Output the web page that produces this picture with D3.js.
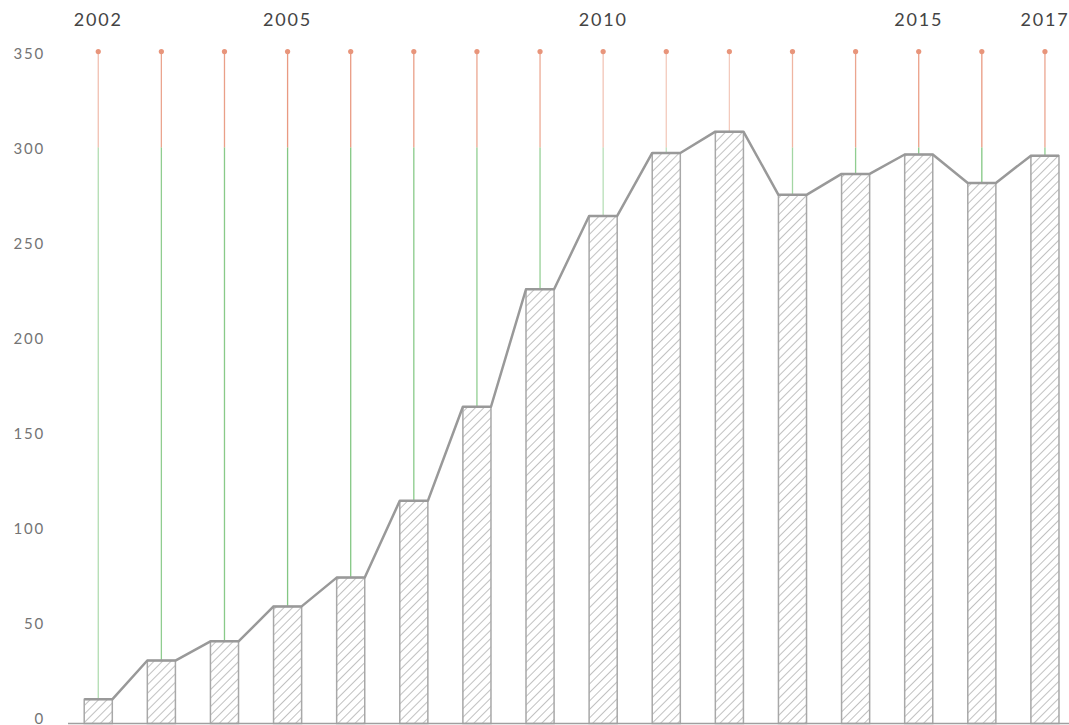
<!DOCTYPE html>
<html>
<head>
<meta charset="utf-8">
<script src="https://cdn.jsdelivr.net/npm/d3@7"></script>
<style>
  html, body { margin: 0; padding: 0; background: #fff; }
  svg { display: block; }
  text { font-family: Lato, "Noto Sans", sans-serif; }
</style>
</head>
<body>
<svg id="chart" width="1069" height="725"></svg>
<script>
// Yearly values
const years = [2002, 2003, 2004, 2005, 2006, 2007, 2008, 2009,
               2010, 2011, 2012, 2013, 2014, 2015, 2016, 2017];
const values = [12.6, 32.8, 42.8, 61, 76, 116, 165, 226.2,
                264.4, 297.2, 308.3, 275.4, 286.3, 296.4, 281.6, 295.8];
// Reference levels for the stems
const ceiling = 350;
const threshold = 300;
// Stem opacities per year (upper salmon part / lower green part)
const upperOpacity = [0.6, 0.85, 0.9, 0.95, 0.95, 0.9, 0.85, 0.8,
                      0.55, 0.5, 0.5, 0.7, 0.85, 0.9, 0.95, 0.85];
const lowerOpacity = [0.6, 0.85, 0.9, 0.95, 0.95, 0.9, 0.85, 0.8,
                      0.55, 0.5, 0.5, 0.7, 0.85, 0.9, 0.95, 0.85];
// Labelled years on the top axis and y tick values
const topLabels = [2002, 2005, 2010, 2015, 2017];
const yTicks = [0, 50, 100, 150, 200, 250, 300, 350];

const svg = d3.select("#chart");

const x = d3.scaleBand()
  .domain(years)
  .range([66.7, 1076.5])
  .paddingInner(0.555)
  .paddingOuter(0.2775);

const y = d3.scaleLinear()
  .domain([0, 350])
  .range([723.5, 51.6]);

const cx = d => x(d) + x.bandwidth() / 2;

// Hatch pattern for the bars
const defs = svg.append("defs");
const pat = defs.append("pattern")
  .attr("id", "hatch")
  .attr("patternUnits", "userSpaceOnUse")
  .attr("width", 6)
  .attr("height", 6)
  .attr("patternTransform", "rotate(45)");
pat.append("line")
  .attr("x1", 0).attr("y1", 0)
  .attr("x2", 0).attr("y2", 6)
  .attr("stroke", "#8c8c8c")
  .attr("stroke-width", 1.1);

const data = years.map((yr, i) => ({
  year: yr, value: values[i], up: upperOpacity[i], low: lowerOpacity[i]
}));

// Y axis labels (tick labels sit on a slightly tighter spread than the plot scale)
svg.append("g")
  .selectAll("text")
  .data(yTicks)
  .join("text")
  .attr("x", 45)
  .attr("y", d => y(d))
  .attr("dy", d => (0.06 + (d / 350) * 0.45) + "em")
  .attr("text-anchor", "end")
  .attr("fill", "#747474")
  .attr("font-size", 15)
  .attr("letter-spacing", 1.8)
  .text(d => d);

// Top axis labels
svg.append("g")
  .selectAll("text")
  .data(topLabels)
  .join("text")
  .attr("x", d => cx(d))
  .attr("y", 26)
  .attr("text-anchor", "middle")
  .attr("fill", "#444")
  .attr("font-size", 18)
  .attr("letter-spacing", 1.8)
  .text(d => d);

// Stems: salmon from the ceiling to the threshold (or bar top), green below to the bar top
const stems = svg.append("g");
stems.selectAll("line.upper")
  .data(data)
  .join("line")
  .attr("class", "upper")
  .attr("x1", d => cx(d.year)).attr("x2", d => cx(d.year))
  .attr("y1", y(ceiling))
  .attr("y2", d => y(Math.max(threshold, d.value)))
  .attr("stroke", "#e8957b")
  .attr("stroke-opacity", d => d.up)
  .attr("stroke-width", 1.3);
stems.selectAll("line.lower")
  .data(data.filter(d => d.value < threshold))
  .join("line")
  .attr("class", "lower")
  .attr("x1", d => cx(d.year)).attr("x2", d => cx(d.year))
  .attr("y1", y(threshold))
  .attr("y2", d => y(d.value))
  .attr("stroke", "#7cc47c")
  .attr("stroke-opacity", d => d.low)
  .attr("stroke-width", 1.3);
stems.selectAll("circle")
  .data(data)
  .join("circle")
  .attr("cx", d => cx(d.year))
  .attr("cy", y(ceiling))
  .attr("r", 2.6)
  .attr("fill", "#e8957b");

// Bars
svg.append("g")
  .selectAll("rect")
  .data(data)
  .join("rect")
  .attr("x", d => x(d.year))
  .attr("y", d => y(d.value))
  .attr("width", x.bandwidth())
  .attr("height", d => y(0) - y(d.value))
  .attr("fill", "url(#hatch)")
  .attr("stroke", "#a8a8a8")
  .attr("stroke-width", 1.5);

// Baseline
svg.append("line")
  .attr("x1", 68).attr("x2", 1069)
  .attr("y1", y(0)).attr("y2", y(0))
  .attr("stroke", "#a0a0a0")
  .attr("stroke-width", 1.5);

// Outline running across each bar top
const pts = [];
data.forEach(d => {
  pts.push([x(d.year), y(d.value)]);
  pts.push([x(d.year) + x.bandwidth(), y(d.value)]);
});
svg.append("path")
  .attr("d", d3.line()(pts))
  .attr("fill", "none")
  .attr("stroke", "#999")
  .attr("stroke-width", 2.5)
  .attr("stroke-linejoin", "round");
</script>
</body>
</html>
